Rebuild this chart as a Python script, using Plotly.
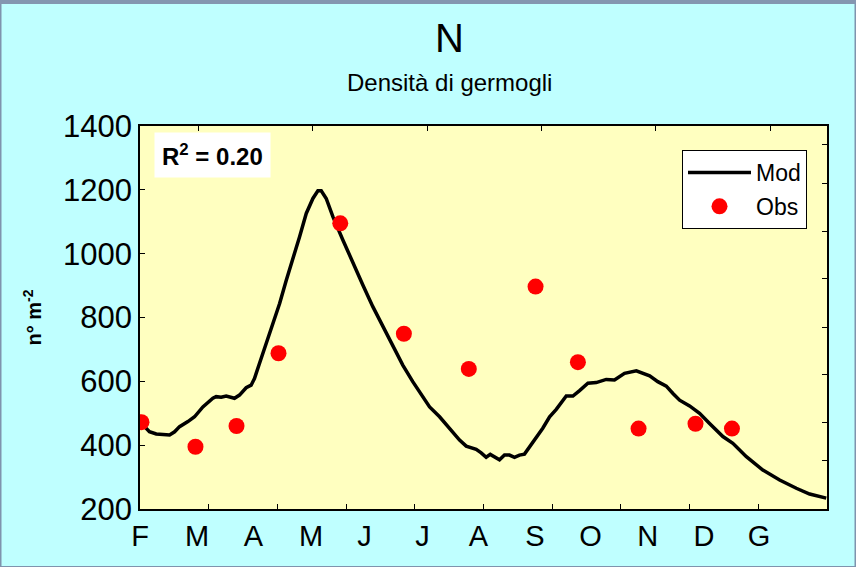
import plotly.graph_objects as go

# ---- data (x = days from 1 February) ----
mod_day = [1.2, 5.1, 8.8, 16.0, 18.7, 21.4, 25.9, 29.5, 34.0, 39.4, 41.2, 43.9, 46.6, 48.4, 51.1,
           53.8, 57.4, 60.1, 61.9, 64.6, 68.3, 71.8, 75.5, 79.1, 82.6, 86.3, 89.9, 93.5, 96.2, 98.0,
           100.7, 104.3, 109.7, 115.1, 120.5, 125.9, 131.3, 136.7, 142.1, 147.5, 152.9, 156.6, 162.0,
           167.4, 172.8, 176.4, 181.8, 184.5, 187.2, 189.4, 191.7, 194.4, 197.1, 199.8, 202.5, 205.2,
           207.9, 210.7, 214.3, 217.8, 221.5, 225.1, 230.5, 234.1, 237.7, 242.2, 246.7, 252.1, 256.6,
           262.0, 268.4, 271.9, 275.6, 280.0, 284.6, 288.2, 291.8, 297.2, 302.6, 308.0, 315.2, 320.6,
           327.9, 336.8, 345.9, 354.9, 362.1, 371.1]
mod_val = [466, 442, 435, 432, 442, 458, 474, 489, 520, 547, 552, 550, 554, 552, 547,
           557, 580, 588, 609, 656, 719, 782, 844, 917, 980, 1053, 1126, 1173, 1197, 1197,
           1173, 1116, 1043, 970, 902, 834, 771, 708, 651, 599, 552, 520, 489,
           453, 416, 397, 387, 376, 362, 371, 364, 354, 369, 369, 362, 369,
           372, 395, 421, 453, 489, 512, 554, 554, 571, 594, 596, 606, 604,
           625, 633, 625, 617, 599, 585, 562, 541, 523, 500, 468, 427, 406,
           364, 322, 291, 265, 247, 234]

obs_day = [0.8, 30.0, 52.2, 74.9, 108.3, 142.7, 177.8, 213.9, 236.8, 269.6, 300.4, 320.1]
obs_val = [472, 395, 460, 688, 1095, 749, 639, 897, 660, 452, 467, 452]

month_labels = ["F", "M", "A", "M", "J", "J", "A", "S", "O", "N", "D", "G"]
month_pos = [0, 30.8, 61.4, 92.5, 121.4, 152.8, 183.0, 213.6, 243.6, 274.5, 305.0, 334.8]
bottom_ticks = [37.15, 74.3, 111.45, 148.6, 185.75, 222.9, 260.05, 297.2, 334.35]
top_ticks = [31.4, 93.3, 155.2, 217.1, 279.0, 340.9]
right_ticks = [351, 470, 620, 770, 921, 1068, 1221, 1343]
y_ticks = [200, 400, 600, 800, 1000, 1200, 1400]

X_RANGE = [0, 371.5]
Y_RANGE = [200, 1400]

W, H = 856, 567
ML, MR, MT, MB = 140, 29, 126, 58
PW, PH = W - ML - MR, H - MT - MB

FONT = "Liberation Sans, Arial, sans-serif"

fig = go.Figure()
fig.add_trace(go.Scatter(x=mod_day, y=mod_val, mode="lines", name="Mod",
                         line=dict(color="black", width=3.5), legendgroup="a"))
fig.add_trace(go.Scatter(x=obs_day, y=obs_val, mode="markers", name="Obs",
                         marker=dict(color="#ff0000", size=16), legendgroup="b"))
# empty helper traces so the overlay axes are drawn
fig.add_trace(go.Scatter(x=[None], y=[None], xaxis="x2", yaxis="y2", showlegend=False, hoverinfo="skip"))
fig.add_trace(go.Scatter(x=[None], y=[None], xaxis="x3", yaxis="y", showlegend=False, hoverinfo="skip"))

fig.update_layout(
    width=W, height=H,
    margin=dict(l=ML, r=MR, t=MT, b=MB, pad=0, autoexpand=False),
    paper_bgcolor="#bfffff",
    plot_bgcolor="#ffffc0",
    font=dict(family=FONT, color="black"),
    showlegend=True,
    legend=dict(x=(682 - ML) / PW, y=(509 - 150) / PH, xanchor="left", yanchor="top",
                bgcolor="white", bordercolor="black", borderwidth=1,
                font=dict(size=23, family=FONT), traceorder="grouped", tracegroupgap=1,
                itemwidth=63),
    xaxis=dict(range=X_RANGE, tickvals=month_pos, ticktext=month_labels, ticks="",
               showline=True, linecolor="black", linewidth=1.5, mirror=True, automargin=False,
               showgrid=False, zeroline=False, tickfont=dict(size=29)),
    xaxis2=dict(range=X_RANGE, overlaying="x", anchor="y2", side="bottom", automargin=False,
                tickvals=bottom_ticks, ticks="inside", ticklen=5, tickcolor="black",
                showticklabels=False, showgrid=False, zeroline=False, showline=False),
    xaxis3=dict(range=X_RANGE, overlaying="x", anchor="y", side="top", automargin=False,
                tickvals=top_ticks, ticks="inside", ticklen=5, tickcolor="black",
                showticklabels=False, showgrid=False, zeroline=False, showline=False),
    yaxis=dict(range=Y_RANGE, tickvals=y_ticks, ticks="inside", ticklen=5, tickcolor="black",
               showline=True, linecolor="black", linewidth=1.5, mirror=True, automargin=False,
               showgrid=False, zeroline=False, tickfont=dict(size=31),
               title=dict(text="<b>n° m<sup>-2</sup></b>", font=dict(size=20), standoff=16)),
    yaxis2=dict(range=Y_RANGE, overlaying="y", anchor="x", side="right", automargin=False,
                tickvals=right_ticks, ticks="inside", ticklen=5, tickcolor="black",
                showticklabels=False, showgrid=False, zeroline=False, showline=False),
)

# titles
fig.add_annotation(text="N", xref="paper", yref="paper", x=(449 - ML) / PW, y=(509 - 38) / PH,
                   showarrow=False, font=dict(size=40, family=FONT), xanchor="center", yanchor="middle")
fig.add_annotation(text="Densità di germogli", xref="paper", yref="paper", x=(449 - ML) / PW,
                   y=(509 - 82) / PH, showarrow=False, font=dict(size=24, family=FONT),
                   xanchor="center", yanchor="middle")
# R^2 box
fig.add_annotation(text="<b>R<sup>2</sup> = 0.20</b>", xref="paper", yref="paper",
                   x=(212 - ML) / PW, y=(509 - 155) / PH, showarrow=False,
                   font=dict(size=24, family=FONT), bgcolor="white", borderpad=7,
                   xanchor="center", yanchor="middle")

# outer frame of the picture
fig.add_shape(type="rect", xref="paper", yref="paper",
              x0=-ML / PW + 0.5 / PW, x1=(W - ML) / PW - 0.5 / PW,
              y0=-MB / PH, y1=(H - MB) / PH - 1.5 / PH,
              line=dict(color="#7f93ad", width=2), layer="above")
fig.add_shape(type="rect", xref="paper", yref="paper",
              x0=-ML / PW, x1=(W - ML) / PW,
              y0=(H - MB - 4) / PH, y1=(H - MB) / PH,
              fillcolor="#8496b0", line=dict(width=0), layer="above")

fig.write_html("out.html", config={"displayModeBar": False},
               post_script="document.body.style.margin='0';")
